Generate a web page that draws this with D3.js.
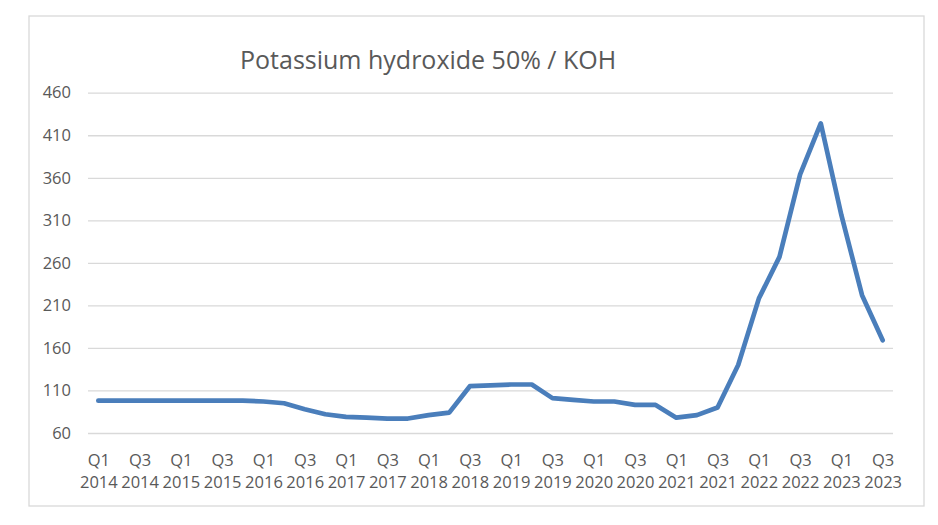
<!DOCTYPE html>
<html>
<head>
<meta charset="utf-8">
<script src="https://cdn.jsdelivr.net/npm/d3@7"></script>
<style>
  html, body { margin: 0; padding: 0; background: #fff; }
  svg { display: block; }
  text { font-family: "Open Sans", "Liberation Sans", sans-serif; fill: #595959; }
</style>
</head>
<body>
<svg id="chart" width="938" height="525"></svg>
<script>
const title = "Potassium hydroxide 50% / KOH";
const years = ["2014","2015","2016","2017","2018","2019","2020","2021","2022","2023"];
const quarters = ["Q1","Q2","Q3","Q4"];
const categories = [];
years.forEach(y => quarters.forEach(q => { if (!(y === "2023" && q === "Q4")) categories.push(q + " " + y); }));
const values = [
  98, 98, 98, 98,
  98, 98, 98, 98,
  97, 95, 88, 82,
  79, 78, 77, 77,
  81, 84, 115, 116,
  117, 117, 101, 99,
  97, 97, 93, 93,
  78, 81, 90, 140,
  218, 267, 364, 424,
  316, 222, 169
];
const yTicks = [60, 110, 160, 210, 260, 310, 360, 410, 460];

const svg = d3.select("#chart");

// outer frame
svg.append("rect")
  .attr("x", 29).attr("y", 16)
  .attr("width", 895).attr("height", 490)
  .attr("fill", "#fff")
  .attr("stroke", "#d9d9d9").attr("stroke-width", 1.3);

const x = d3.scalePoint().domain(categories).range([88, 893]).padding(0.5);
const y = d3.scaleLinear().domain([60, 460]).range([433, 92.7]);

// gridlines
const yAxis = d3.axisLeft(y).tickValues(yTicks).tickSize(-(893 - 88)).tickPadding(17);
const gy = svg.append("g").attr("transform", "translate(88,0)").call(yAxis);
gy.select(".domain").remove();
gy.selectAll(".tick line").attr("stroke", "#d9d9d9").attr("stroke-width", 1.3);
gy.selectAll(".tick text")
  .attr("fill", "#595959")
  .style("font-size", "16.5px")
  .style("font-family", '"Open Sans", sans-serif');

// x axis labels (every other quarter)
const xAxis = d3.axisBottom(x).tickSize(0).tickFormat(() => "");
const gx = svg.append("g").attr("transform", "translate(0,433)").call(xAxis);
gx.select(".domain").remove();
gx.selectAll(".tick").each(function(d, i) {
  if (i % 2 !== 0) return;
  const parts = d.split(" ");
  const t = d3.select(this).select("text")
    .attr("y", 0).attr("dy", null)
    .attr("text-anchor", "middle")
    .style("font-size", "16.5px")
    .style("font-family", '"Open Sans", sans-serif')
    .attr("fill", "#595959");
  t.append("tspan").attr("x", 0).attr("y", 32.5).text(parts[0]);
  t.append("tspan").attr("x", 0).attr("y", 55).text(parts[1]);
});

// line
const line = d3.line()
  .x((d, i) => x(categories[i]))
  .y(d => y(d));
svg.append("path")
  .datum(values)
  .attr("d", line)
  .attr("fill", "none")
  .attr("stroke", "#4a7ebb")
  .attr("stroke-width", 4.7)
  .attr("stroke-linejoin", "round")
  .attr("stroke-linecap", "round");

// title
svg.append("text")
  .attr("x", 240).attr("y", 69)
  .style("font-size", "25px")
  .style("font-family", '"Open Sans", sans-serif')
  .attr("fill", "#595959")
  .text(title);
</script>
</body>
</html>
